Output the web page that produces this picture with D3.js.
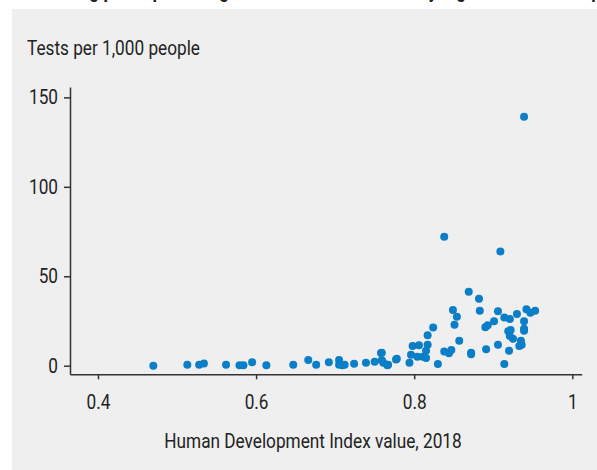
<!DOCTYPE html>
<html>
<head>
<meta charset="utf-8">
<script src="https://cdn.jsdelivr.net/npm/d3@7"></script>
<style>
  body { margin: 0; background: #fff; }
  svg { display: block; }
  text { font-family: Roboto, "Liberation Sans", sans-serif; fill: #222; }
</style>
</head>
<body>
<div id="chart"></div>
<script>
// HDI value (2018) of each country
var hdi = [
  0.470, 0.513, 0.528, 0.534, 0.562, 0.579, 0.584, 0.595, 0.613, 0.647,
  0.666, 0.676, 0.692, 0.705, 0.705, 0.709, 0.712, 0.724, 0.739, 0.750,
  0.758, 0.759, 0.767, 0.777, 0.759, 0.761, 0.766, 0.778, 0.794, 0.796,
  0.798, 0.804, 0.806, 0.811, 0.815, 0.815, 0.817, 0.817, 0.824, 0.830,
  0.838, 0.844, 0.847, 0.849, 0.851, 0.854, 0.857, 0.869, 0.872, 0.872,
  0.882, 0.883, 0.890, 0.891, 0.893, 0.901, 0.906, 0.906, 0.909, 0.914,
  0.914, 0.919, 0.920, 0.921, 0.921, 0.922, 0.925, 0.930, 0.933, 0.935,
  0.936, 0.939, 0.939, 0.939, 0.942, 0.947, 0.953, 0.838, 0.939
];

// tests per 1,000 people, same order as hdi
var tests = [
  0.0, 0.5, 0.5, 1.3, 0.5, 0.3, 0.2, 2.0, 0.3, 0.5,
  3.2, 0.5, 2.0, 3.2, 0.5, 0.2, 0.5, 1.1, 1.7, 2.2,
  7.1, 3.0, 0.5, 3.5, 7.3, 1.7, 0.2, 3.9, 1.7, 6.1,
  11.0, 5.0, 11.4, 5.0, 8.4, 4.3, 11.7, 17.0, 21.4, 1.0,
  8.0, 6.9, 8.8, 31.1, 22.9, 27.4, 14.0, 41.4, 7.3, 6.4,
  37.5, 30.7, 21.5, 9.2, 22.6, 24.8, 30.4, 11.7, 63.9, 27.0,
  1.0, 19.2, 8.4, 26.1, 16.6, 20.0, 15.1, 28.9, 11.0, 14.0,
  11.7, 24.8, 20.7, 19.6, 31.5, 29.6, 30.7, 72.1, 139.2
];

var xTicks = [0.4, 0.6, 0.8, 1];
var yTicks = [0, 50, 100, 150];

var titleText = 'Testing per capita is highest in countries with very high human development';
var yTitle = 'Tests per 1,000 people';
var xTitle = 'Human Development Index value, 2018';

(function () {
  var width = 597;
  var height = 470;
  var dotColor = '#0a7ec6';
  var axisColor = '#333';
  var squeeze = 0.86;

  // the chart font is a condensed grotesque, squeeze Roboto to match
  var condense = function (sel, ratio) {
    sel.each(function () {
      var w = this.getComputedTextLength();
      d3.select(this)
          .attr('textLength', w * ratio)
          .attr('lengthAdjust', 'spacingAndGlyphs');
    });
  };

  var svg = d3.select('#chart').append('svg')
      .attr('width', width)
      .attr('height', height);

  svg.append('rect')
      .attr('x', 12)
      .attr('y', 9)
      .attr('width', width - 12)
      .attr('height', height - 9)
      .attr('fill', '#efefef');

  // title sits above the visible area in the reference, only descenders show
  svg.append('text')
      .attr('x', 40)
      .attr('y', -3)
      .attr('font-size', 22)
      .attr('font-weight', 'bold')
      .attr('fill', '#111')
      .text(titleText)
      .call(condense, 0.8);

  var xScale = d3.scaleLinear().domain([0.3646, 1.0119]).range([70, 581.7]);
  var yScale = d3.scaleLinear().domain([-4.8, 155.8]).range([374.3, 87]);

  var xAxis = d3.axisBottom(xScale)
      .tickValues(xTicks)
      .tickSizeInner(5)
      .tickSizeOuter(0)
      .tickPadding(16)
      .tickFormat(function (d) { return d === 1 ? '1' : d3.format('.1f')(d); });

  var yAxis = d3.axisLeft(yScale)
      .tickValues(yTicks)
      .tickSizeInner(6)
      .tickSizeOuter(0)
      .tickPadding(6);

  var gx = svg.append('g')
      .attr('transform', 'translate(0,' + yScale.range()[0] + ')')
      .call(xAxis);

  var gy = svg.append('g')
      .attr('transform', 'translate(' + xScale.range()[0] + ',0)')
      .call(yAxis);

  [gx, gy].forEach(function (g) {
    g.selectAll('path, line')
        .attr('stroke', axisColor)
        .attr('stroke-width', 1.5);
    g.selectAll('text')
        .attr('font-size', 20)
        .attr('font-family', null)
        .attr('fill', '#222')
        .call(condense, squeeze);
  });

  svg.append('text')
      .attr('x', 27)
      .attr('y', 55)
      .attr('font-size', 20)
      .text(yTitle)
      .call(condense, squeeze);

  svg.append('text')
      .attr('x', 313)
      .attr('y', 448)
      .attr('text-anchor', 'middle')
      .attr('font-size', 20)
      .text(xTitle)
      .call(condense, squeeze);

  svg.append('g').selectAll('circle')
      .data(d3.range(hdi.length))
      .enter().append('circle')
      .attr('cx', function (i) { return xScale(hdi[i]); })
      .attr('cy', function (i) { return yScale(tests[i]); })
      .attr('r', 4)
      .attr('fill', dotColor);
})();
</script>
</body>
</html>
